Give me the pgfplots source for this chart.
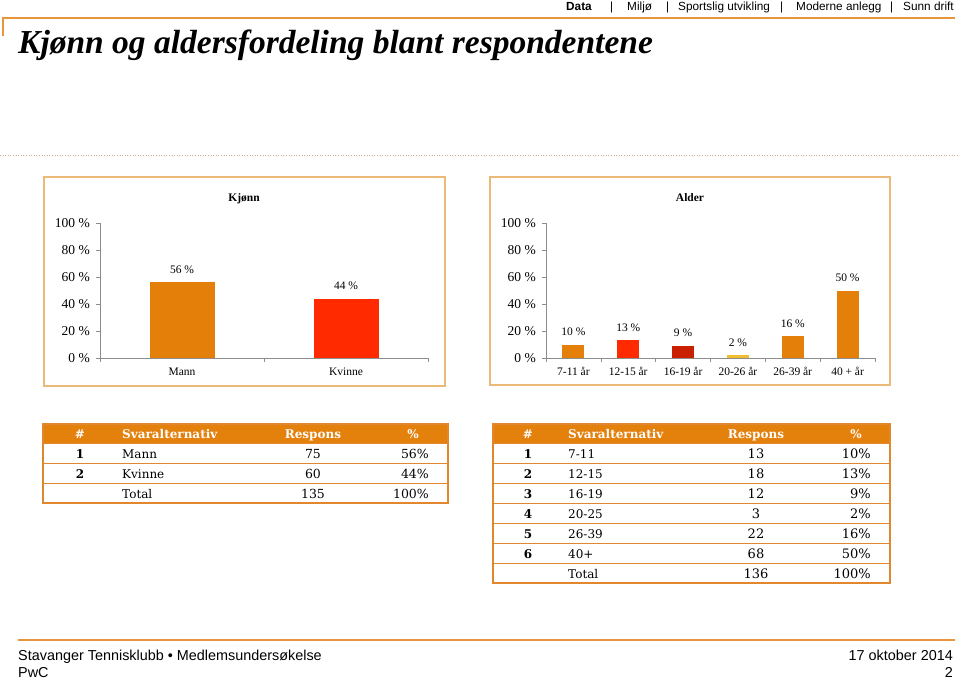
\documentclass[border=0pt]{standalone}
\usepackage{fontspec}
\usepackage{pgfplots}
\pgfplotsset{compat=1.18}
\setmainfont{Liberation Serif}
\newfontfamily\sans{Liberation Sans}
\newfontfamily\dvs{DejaVu Serif}
\newcommand\fs[1]{\fontsize{#1}{#1}\selectfont}

\definecolor{cOrange}{RGB}{228,128,10}
\definecolor{cRed}{RGB}{255,42,0}
\definecolor{cDark}{RGB}{200,32,0}
\definecolor{cYellow}{RGB}{240,190,50}
\definecolor{boxline}{RGB}{235,185,120}
\definecolor{tline}{RGB}{225,135,45}
\definecolor{thead}{RGB}{228,128,12}
\definecolor{topline}{RGB}{232,150,60}
\definecolor{axisgray}{RGB}{140,140,140}
\definecolor{dots}{RGB}{195,175,145}

\pgfplotsset{
  panel/.style={
    scale only axis, height=135pt, anchor=south west,
    ymin=0, ymax=100, enlargelimits=false, clip=false,
    axis x line*=bottom, axis y line*=left,
    axis line style={draw=axisgray, line width=0.6pt},
    tick align=outside, major tick length=4pt,
    tick style={draw=axisgray, line width=0.6pt},
    ytick={0,20,...,100},
    yticklabels={0 \%,20 \%,40 \%,60 \%,80 \%,100 \%},
    yticklabel style={font=\fs{13.5}, anchor=east, inner xsep=0pt, xshift=-6pt},
    xticklabels={},
    extra x tick style={major tick length=0pt,
      xticklabel style={font=\fs{11.5}, anchor=base, inner sep=0pt, yshift=-17pt}},
    /pgf/number format/assume math mode=true,
    nodes near coords={\pgfmathprintnumber{\pgfplotspointmeta} \%},
    every node near coord/.append style={font=\fs{11.5}, anchor=base, inner sep=0pt, yshift=9pt},
  },
  onebar/.style={ybar, bar shift=0pt, draw=none, fill=#1},
}

\begin{document}
\begin{tikzpicture}[x=1pt, y=1pt]
\path[use as bounding box] (0pt,0pt) rectangle (959pt,-680pt);

\begin{axis}[panel, at={(100pt,-358pt)}, width=328pt,
  xmin=0.5, xmax=2.5, xtick={0.5,1.5,2.5},
  extra x ticks={1,2}, extra x tick labels={Mann,Kvinne},
  bar width=65pt]
\addplot[onebar=cOrange] coordinates {(1,56)};
\addplot[onebar=cRed] coordinates {(2,44)};
\end{axis}

\begin{axis}[panel, at={(546pt,-358pt)}, width=329pt,
  xmin=0.5, xmax=6.5, xtick={0.5,1.5,...,6.5},
  extra x ticks={1,2,3,4,5,6},
  extra x tick labels={7-11 år,12-15 år,16-19 år,20-26 år,26-39 år,40 + år},
  bar width=22pt]
\addplot[onebar=cOrange] coordinates {(1,10)};
\addplot[onebar=cRed] coordinates {(2,13)};
\addplot[onebar=cDark] coordinates {(3,9)};
\addplot[onebar=cYellow] coordinates {(4,2)};
\addplot[onebar=cOrange] coordinates {(5,16)};
\addplot[onebar=cOrange] coordinates {(6,50)};
\end{axis}

\begin{scope}[y=-1pt,
  tx/.style={inner sep=0pt, anchor=base},
  txw/.style={inner sep=0pt, anchor=base west},
  txe/.style={inner sep=0pt, anchor=base east}]

% header
\draw[topline, line width=1.2pt] (3,36) -- (3,18) -- (955,18);
\begin{scope}[every node/.style={txw, font=\sans\fs{11.8}}]
  \node[font=\sans\bfseries\fs{11.8}] at (566,10) {Data};
  \node at (610,10) {|};
  \node at (627,10) {Miljø};
  \node at (666,10) {|};
  \node at (678,10) {Sportslig utvikling};
  \node at (780,10) {|};
  \node at (796,10) {Moderne anlegg};
  \node at (890,10) {|};
  \node at (903,10) {Sunn drift};
\end{scope}
\node[txw, font=\bfseries\itshape\fs{33.5}] at (18,53) {Kjønn og aldersfordeling blant respondentene};
\draw[dots, line width=1pt, dash pattern=on 1pt off 1.6pt] (0,155) -- (959,155);

% chart frames
\draw[boxline, line width=1.5pt] (44,177) rectangle (445,386);
\draw[boxline, line width=1.5pt] (490,177) rectangle (890,385);
\node[tx, font=\bfseries\fs{11.5}] at (244,201) {Kjønn};
\node[tx, font=\bfseries\fs{11.5}] at (690,201) {Alder};

% left table
\fill[thead] (43,424) rectangle (448,443);
\foreach \yy in {443,463,483} \draw[tline, line width=1pt] (43,\yy) -- (448,\yy);
\draw[tline, line width=1.2pt] (43,424) rectangle (448,503);
\begin{scope}[every node/.append style={text=white, font=\dvs\bfseries\fs{12}}]
  \node[tx] at (80,438) {\#};
  \node[txw] at (122,438) {Svaralternativ};
  \node[tx] at (313,438) {Respons};
  \node[tx] at (413,438) {\%};
\end{scope}
\foreach \n/\lab/\r/\p in {1/Mann/75/56, 2/Kvinne/60/44} {
  \pgfmathtruncatemacro\yb{438+20*\n}
  \node[tx, font=\dvs\bfseries\fs{12}] at (80,\yb) {\n};
  \node[txw, font=\dvs\fs{12}] at (122,\yb) {\lab};
  \node[tx, font=\dvs\fs{12.5}] at (313,\yb) {\r};
  \node[txe, font=\dvs\fs{12.5}] at (429,\yb) {\p\%};
}
\node[txw, font=\dvs\fs{12}] at (122,498) {Total};
\node[tx, font=\dvs\fs{12.5}] at (313,498) {135};
\node[txe, font=\dvs\fs{12.5}] at (429,498) {100\%};

% right table
\fill[thead] (493,424) rectangle (890,443);
\foreach \yy in {443,463,...,563} \draw[tline, line width=1pt] (493,\yy) -- (890,\yy);
\draw[tline, line width=1.2pt] (493,424) rectangle (890,583);
\begin{scope}[every node/.append style={text=white, font=\dvs\bfseries\fs{12}}]
  \node[tx] at (528,438) {\#};
  \node[txw] at (568,438) {Svaralternativ};
  \node[tx] at (756,438) {Respons};
  \node[tx] at (856,438) {\%};
\end{scope}
\foreach \n/\lab/\r/\p in {1/7-11/13/10, 2/12-15/18/13, 3/16-19/12/9, 4/20-25/3/2, 5/26-39/22/16, 6/40+/68/50} {
  \pgfmathtruncatemacro\yb{438+20*\n}
  \node[tx, font=\dvs\bfseries\fs{12}] at (528,\yb) {\n};
  \node[txw, font=\dvs\fs{12}] at (568,\yb) {\lab};
  \node[tx, font=\dvs\fs{13}] at (756,\yb) {\r};
  \node[txe, font=\dvs\fs{13}] at (871,\yb) {\p\%};
}
\node[txw, font=\dvs\fs{12}] at (568,578) {Total};
\node[tx, font=\dvs\fs{13}] at (756,578) {136};
\node[txe, font=\dvs\fs{13}] at (871,578) {100\%};

% footer
\draw[topline, line width=1.2pt] (18,640) -- (955,640);
\begin{scope}[every node/.append style={font=\sans\fs{14.4}}]
  \node[txw] at (18,660) {Stavanger Tennisklubb • Medlemsundersøkelse};
  \node[txe] at (953,660) {17 oktober 2014};
  \node[txw] at (18,677) {PwC};
  \node[txe] at (953,677) {2};
\end{scope}
\end{scope}
\end{tikzpicture}
\end{document}
